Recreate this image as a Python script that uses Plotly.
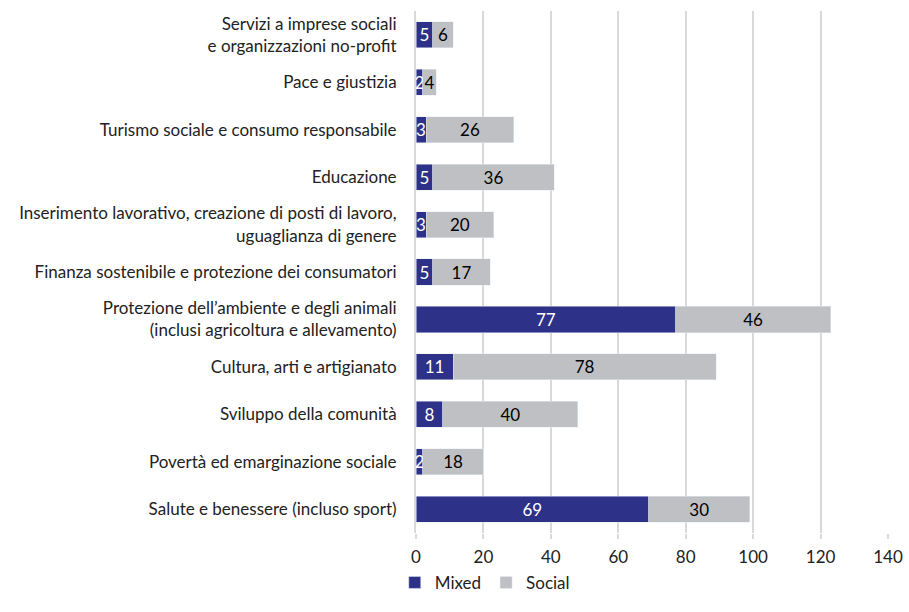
import plotly.graph_objects as go

categories = [
    "Servizi a imprese sociali<br>e organizzazioni no-profit",
    "Pace e giustizia",
    "Turismo sociale e consumo responsabile",
    "Educazione",
    "Inserimento lavorativo, creazione di posti di lavoro,<br>uguaglianza di genere",
    "Finanza sostenibile e protezione dei consumatori",
    "Protezione dell’ambiente e degli animali<br>(inclusi agricoltura e allevamento)",
    "Cultura, arti e artigianato",
    "Sviluppo della comunità",
    "Povertà ed emarginazione sociale",
    "Salute e benessere (incluso sport)",
]
mixed = [5, 2, 3, 5, 3, 5, 77, 11, 8, 2, 69]
social = [6, 4, 26, 36, 20, 17, 46, 78, 40, 18, 30]
x_ticks = [0, 20, 40, 60, 80, 100, 120, 140]

FONT = "Lato"
FS = 17
fig = go.Figure()
fig.add_trace(go.Bar(
    y=categories, x=mixed, name="Mixed", orientation="h",
    marker=dict(color="#2E3188"),
    text=mixed, textposition="inside", insidetextanchor="middle", textangle=0,
    textfont=dict(color="white", size=FS, family=FONT),
))
fig.add_trace(go.Bar(
    y=categories, x=social, name="Social", orientation="h",
    marker=dict(color="#BFC0C4"),
    text=social, textposition="inside", insidetextanchor="middle", textangle=0,
    textfont=dict(color="black", size=FS, family=FONT),
))
fig.update_layout(
    barmode="stack", bargap=0.45,
    width=909, height=612,
    margin=dict(l=416, r=21, t=11, b=76),
    paper_bgcolor="white", plot_bgcolor="white",
    font=dict(family=FONT, size=FS, color="#222222"),
    uniformtext=dict(minsize=FS, mode="show"),
    legend=dict(orientation="h", x=-0.045, xanchor="left", y=-0.13, yanchor="bottom",
                font=dict(size=FS), itemwidth=30, traceorder="normal",
                tracegroupgap=0, borderwidth=0),
    showlegend=True,
)
fig.update_xaxes(range=[0, 140], tickvals=x_ticks, showgrid=True, gridcolor="#D9D9D9",
                 gridwidth=2, zeroline=False, ticks="outside", ticklen=5, tickcolor="#D9D9D9",
                 tickwidth=2, ticklabelstandoff=4, tickfont=dict(size=FS), automargin=False)
fig.update_yaxes(categoryorder="array", categoryarray=categories, autorange="reversed",
                 showline=True, linecolor="#D9D9D9", linewidth=2, ticks="",
                 ticklabelstandoff=14, tickfont=dict(size=FS), automargin=False)
fig.write_html("out.html")
